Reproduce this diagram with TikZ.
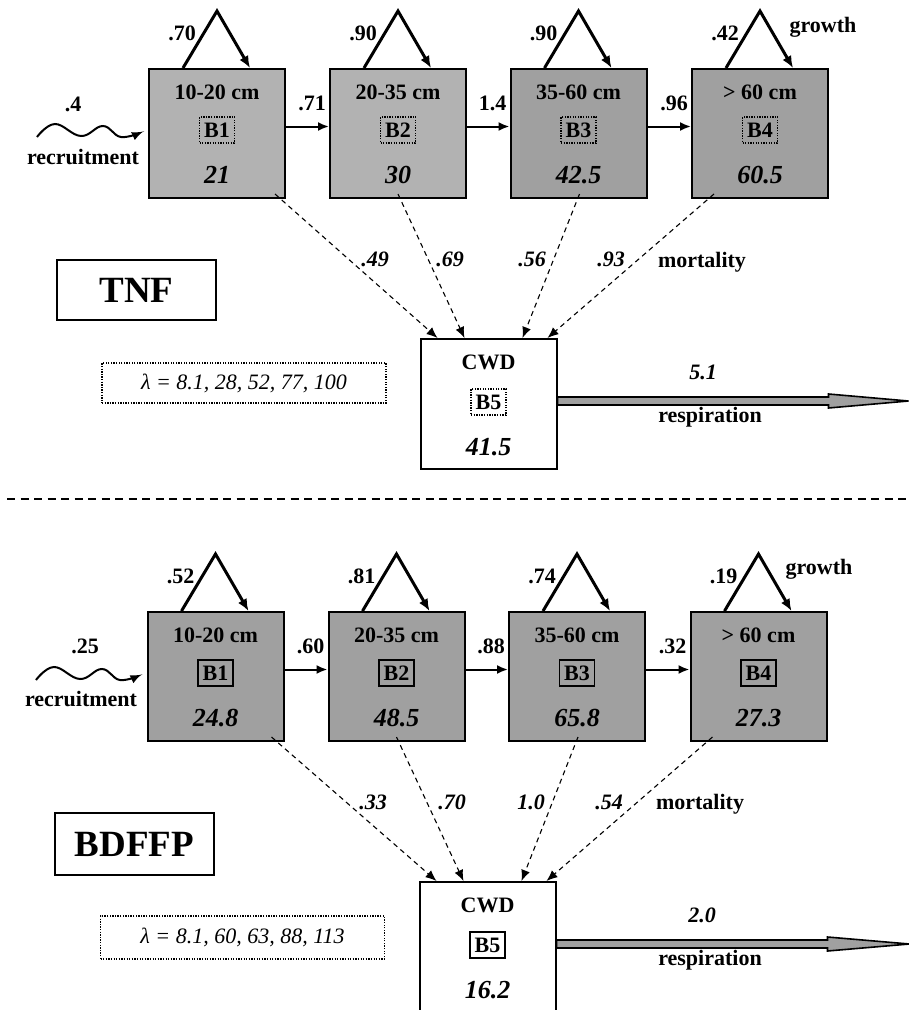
\documentclass[tikz,border=0pt]{standalone}
\usepackage{fontspec}
\setmainfont{Liberation Serif}
\usetikzlibrary{arrows.meta,calc}
\definecolor{boxlight}{RGB}{178,178,178}
\definecolor{boxdark}{RGB}{160,160,160}
\definecolor{respgray}{RGB}{160,160,160}

% name, x, y (top-left), fill, title, B-label, number, B-label style, loop label
\newcommand\stage[9]{%
  \node[stagebox,fill=#4,anchor=north west] (#1) at (#2,#3) {};
  \node[ttl] (#1-t) at ($(#1.north)+(0,24)$) {#5};
  \node[#8] (#1-b) at ($(#1.north)+(0,62)$) {#6};
  \node[num] (#1-n) at ($(#1.north)+(0,107)$) {#7};
  \coordinate (#1-l) at ($(#1.north)+(-34,0)$);
  \coordinate (#1-a) at ($(#1.north)+(0,-57)$);
  \coordinate (#1-r) at ($(#1.north)+(33,0)$);
  \draw[selfloop] (#1-l) -- (#1-a) -- (#1-r);
  \node[lbl,anchor=east] (#1-g) at ($(#1.north)+(-20,-35)$) {#9};
}

\begin{document}
\begin{tikzpicture}[x=1pt,y=-1pt,
  stagebox/.style={draw,line width=2pt,minimum width=136pt,minimum height=129pt,inner sep=0pt},
  cwdbox/.style={draw,line width=2pt,fill=white,minimum width=136pt,minimum height=130pt,inner sep=0pt},
  ttl/.style={font=\fontsize{22}{24}\selectfont\bfseries,inner sep=0pt},
  num/.style={font=\fontsize{26}{28}\selectfont\bfseries\itshape,inner sep=0pt},
  bdot/.style={draw,line width=1.3pt,dash pattern=on 1.3pt off 1.3pt,font=\fontsize{22}{24}\selectfont\bfseries,minimum width=35pt,minimum height=26pt,inner sep=0pt},
  bsolid/.style={draw,line width=1.5pt,font=\fontsize{22}{24}\selectfont\bfseries,minimum width=35pt,minimum height=26pt,inner sep=0pt},
  lbl/.style={font=\fontsize{22}{24}\selectfont\bfseries,inner sep=1pt},
  ilbl/.style={font=\fontsize{22}{24}\selectfont\bfseries\itshape,inner sep=1pt},
  selfloop/.style={line width=3pt,-{Latex[length=12pt,width=10pt]}},
  trans/.style={line width=2pt,-{Latex[length=11pt,width=9pt]}},
  wave/.style={line width=2pt,-{Latex[length=11pt,width=9pt]}},
  mort/.style={line width=1.1pt,dash pattern=on 5pt off 4pt,-{Latex[length=11pt,width=9pt]}},
  resp/.style={line width=1.6pt,fill=respgray,line join=miter},
  sitebox/.style={draw,line width=2pt,minimum width=159pt,inner sep=0pt,font=\fontsize{37}{40}\selectfont\bfseries},
  lambox/.style={draw,line width=1.4pt,dash pattern=on 1.3pt off 1.3pt,minimum width=284pt,inner sep=0pt,font=\fontsize{22}{24}\selectfont\itshape},
  sepline/.style={line width=2.2pt,dash pattern=on 8pt off 5.5pt}
]
\useasboundingbox (0,0) rectangle (909,1010);
\fill[white] (0,0) rectangle (909,1010);

%================ TNF panel ================
\stage{t1}{148}{68}{boxlight}{10-20 cm}{B1}{21}{bdot}{.70}
\stage{t2}{329}{68}{boxlight}{20-35 cm}{B2}{30}{bdot}{.90}
\stage{t3}{509.5}{68}{boxdark}{35-60 cm}{B3}{42.5}{bdot}{.90}
\stage{t4}{691}{68}{boxdark}{> 60 cm}{B4}{60.5}{bdot}{.42}
\node[lbl] (t-growth) at (823,27) {growth};

\draw[trans] ($(t1.east)+(0,-7)$) -- ($(t2.west)+(0,-7)$);
\draw[trans] ($(t2.east)+(0,-7)$) -- ($(t3.west)+(0,-7)$);
\draw[trans] ($(t3.east)+(0,-7)$) -- ($(t4.west)+(0,-7)$);
\node[lbl,anchor=east] (t-p12) at ($(t2.west)+(-2,-30)$) {.71};
\node[lbl,anchor=east] (t-p23) at ($(t3.west)+(-2,-30)$) {1.4};
\node[lbl,anchor=east] (t-p34) at ($(t4.west)+(-2,-30)$) {.96};

\coordinate (t-rs) at (37,137);
\coordinate (t-re) at ($(t1.west)+(-5,-2)$);
\draw[wave] plot[smooth,tension=0.7] coordinates {(t-rs) (55,124) (81,136) (103,126) (121,137) (t-re)};
\node[lbl] (t-rv) at (73,104) {.4};
\node[lbl] (t-rl) at (83,157) {recruitment};

\node[cwdbox,anchor=north west] (t5) at (419.5,338) {};
\node[ttl] (t5-t) at ($(t5.north)+(0,24)$) {CWD};
\node[bdot] (t5-b) at ($(t5.north)+(0,64)$) {B5};
\node[num] (t5-n) at ($(t5.north)+(0,109)$) {41.5};

\draw[mort] ($(t1.south east)+(-11,-5)$) -- ($(t5.north west)+(18,0)$);
\draw[mort] ($(t2.south)+(0,-5)$) -- ($(t5.north west)+(45,0)$);
\draw[mort] ($(t3.south)+(1,-5)$) -- ($(t5.north west)+(103,0)$);
\draw[mort] ($(t4.south west)+(23,-5)$) -- ($(t5.north west)+(128,0)$);
\node[ilbl] (t-m1) at (375,259) {.49};
\node[ilbl] (t-m2) at (450,259) {.69};
\node[ilbl] (t-m3) at (532,259) {.56};
\node[ilbl] (t-m4) at (611,259) {.93};
\node[lbl] (t-mort) at (702,262) {mortality};

\coordinate (t-ro) at ($(t5.east)+(0,-3)$);
\draw[resp] (t-ro) ++(0,-4) -- ++(271,0) -- ++(0,-3) -- ++(80,7) -- ++(-80,7) -- ++(0,-3) -- ++(-271,0) -- cycle;
\node[ilbl] (t-rv2) at (703,372) {5.1};
\node[lbl] (t-rl2) at (710,417) {respiration};

\node[sitebox,minimum height=60pt] (t-site) at (136.5,290) {TNF};
\node[lambox,minimum height=40pt] (t-lam) at (244,383) {λ = 8.1, 28, 52, 77, 100};

%================ separator ================
\coordinate (sep-l) at (7,499);
\coordinate (sep-r) at (909,499);
\draw[sepline] (sep-l) -- (sep-r);

%================ BDFFP panel ================
\stage{b1}{146.5}{611}{boxdark}{10-20 cm}{B1}{24.8}{bsolid}{.52}
\stage{b2}{327.5}{611}{boxdark}{20-35 cm}{B2}{48.5}{bsolid}{.81}
\stage{b3}{508}{611}{boxdark}{35-60 cm}{B3}{65.8}{bsolid}{.74}
\stage{b4}{689.5}{611}{boxdark}{> 60 cm}{B4}{27.3}{bsolid}{.19}
\node[lbl] (b-growth) at (819,569) {growth};

\draw[trans] ($(b1.east)+(0,-7)$) -- ($(b2.west)+(0,-7)$);
\draw[trans] ($(b2.east)+(0,-7)$) -- ($(b3.west)+(0,-7)$);
\draw[trans] ($(b3.east)+(0,-7)$) -- ($(b4.west)+(0,-7)$);
\node[lbl,anchor=east] (b-p12) at ($(b2.west)+(-2,-30)$) {.60};
\node[lbl,anchor=east] (b-p23) at ($(b3.west)+(-2,-30)$) {.88};
\node[lbl,anchor=east] (b-p34) at ($(b4.west)+(-2,-30)$) {.32};

\coordinate (b-rs) at (36,680);
\coordinate (b-re) at ($(b1.west)+(-5,-2)$);
\draw[wave] plot[smooth,tension=0.7] coordinates {(b-rs) (54,667) (80,679) (102,669) (120,680) (b-re)};
\node[lbl] (b-rv) at (85,646) {.25};
\node[lbl] (b-rl) at (81,699) {recruitment};

\node[cwdbox,anchor=north west] (b5) at (418.5,881) {};
\node[ttl] (b5-t) at ($(b5.north)+(0,24)$) {CWD};
\node[bsolid] (b5-b) at ($(b5.north)+(0,64)$) {B5};
\node[num] (b5-n) at ($(b5.north)+(0,109)$) {16.2};

\draw[mort] ($(b1.south east)+(-13,-5)$) -- ($(b5.north west)+(18,0)$);
\draw[mort] ($(b2.south)+(0,-5)$) -- ($(b5.north west)+(45,0)$);
\draw[mort] ($(b3.south)+(1,-5)$) -- ($(b5.north west)+(103,0)$);
\draw[mort] ($(b4.south west)+(23,-5)$) -- ($(b5.north west)+(128,0)$);
\node[ilbl] (b-m1) at (373,802) {.33};
\node[ilbl] (b-m2) at (452,802) {.70};
\node[ilbl] (b-m3) at (531,802) {1.0};
\node[ilbl] (b-m4) at (609,802) {.54};
\node[lbl] (b-mort) at (700,804) {mortality};

\coordinate (b-ro) at ($(b5.east)+(0,-3)$);
\draw[resp] (b-ro) ++(0,-4) -- ++(271,0) -- ++(0,-3) -- ++(82,7) -- ++(-82,7) -- ++(0,-3) -- ++(-271,0) -- cycle;
\node[ilbl] (b-rv2) at (702,915) {2.0};
\node[lbl] (b-rl2) at (710,960) {respiration};

\node[sitebox,minimum height=62pt] (b-site) at (134.5,844) {BDFFP};
\node[lambox,minimum height=43pt] (b-lam) at (242.5,937.5) {λ = 8.1, 60, 63, 88, 113};
\end{tikzpicture}
\end{document}
